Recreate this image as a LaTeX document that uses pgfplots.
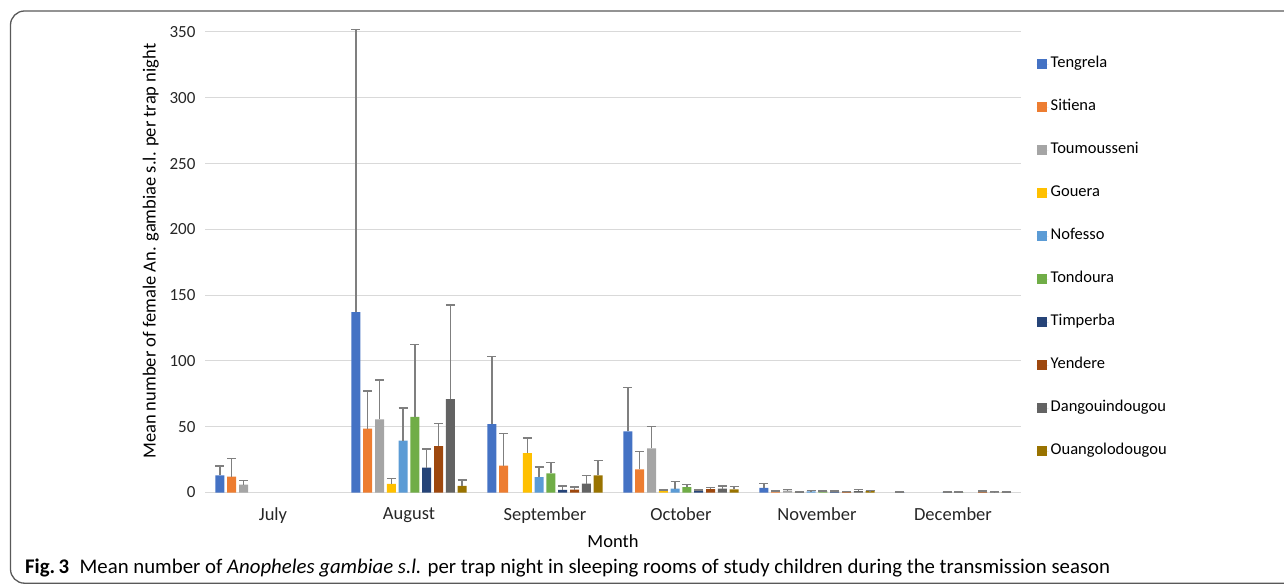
\documentclass[border=0pt]{standalone}
\usepackage{pgfplots}
\pgfplotsset{compat=1.18}
\usepackage{fontspec}
\setmainfont{Carlito}
\definecolor{c1}{HTML}{4472C4}
\definecolor{c2}{HTML}{ED7D31}
\definecolor{c3}{HTML}{A5A5A5}
\definecolor{c4}{HTML}{FFC000}
\definecolor{c5}{HTML}{5B9BD5}
\definecolor{c6}{HTML}{70AD47}
\definecolor{c7}{HTML}{264478}
\definecolor{c8}{HTML}{9E480E}
\definecolor{c9}{HTML}{636363}
\definecolor{c10}{HTML}{997300}
\definecolor{gridc}{HTML}{D9D9D9}
\definecolor{errc}{HTML}{7F7F7F}
\begin{document}
\begin{tikzpicture}
\useasboundingbox (0,0) rectangle (1284pt,584pt);
\draw[black!65, line width=1.3pt, rounded corners=14pt] (1300pt,573pt) -- (10.5pt,573pt) -- (10.5pt,0.8pt) -- (1300pt,0.8pt);
\begin{axis}[
  at={(205pt,91.5pt)}, anchor=south west,
  scale only axis, width=816pt, height=460.5pt,
  clip=false,
  ybar=2.8pt, bar width=9pt,
  xmin=-0.5, xmax=5.5, ymin=0, ymax=350,
  xtick={0,1,2,3,4,5},
  xticklabels={July,August,September,October,November,December},
  ytick={0,50,100,150,200,250,300,350},
  major tick length=0pt,
  ymajorgrids, grid style={gridc, line width=1pt},
  axis x line*=bottom, axis y line*=left,
  y axis line style={draw=none},
  x axis line style={gridc, line width=1.2pt, -},
  every tick label/.append style={text=black!85},
  /pgf/number format/assume math mode=true,
  xticklabel style={font=\fontsize{18.5}{22}\selectfont, yshift=-12pt},
  yticklabel style={font=\fontsize{17}{20}\selectfont, xshift=-6pt},
  xlabel={Month}, xlabel style={font=\fontsize{18.5}{22}\selectfont, yshift=-4pt},
  ylabel={Mean number of female An. gambiae s.l. per trap night},
  ylabel style={font=\fontsize{18.5}{22}\selectfont, yshift=4pt, xshift=11pt},
  error bars/y dir=plus, error bars/y explicit,
  error bars/error bar style={errc, line width=1.4pt},
  error bars/error mark options={rotate=90, mark size=4.5pt, errc, line width=1.4pt},
  legend style={at={(1.019,0.949)}, anchor=north west, draw=none, fill=none,
    font=\fontsize{16.5}{19}\selectfont, row sep=26pt, inner sep=0pt,
    nodes={text height=10pt, text depth=3pt, inner sep=2pt}},
  legend cell align=left,
  legend image code/.code={\path (0pt,0pt) -- (12pt,0pt); \fill[#1] (0pt,-5pt) rectangle (10pt,5pt);},
]
\addplot[fill=c1, draw=none] coordinates {(0,13) +- (0,7) (1,137) +- (0,215) (2,52) +- (0,51.5) (3,46.5) +- (0,33.5) (4,3.5) +- (0,3.5) (5,0.3) +- (0,0.2)};
\addplot[fill=c2, draw=none] coordinates {(0,12) +- (0,14) (1,48.5) +- (0,28.5) (2,20.5) +- (0,24.5) (3,17.5) +- (0,13.5) (4,0.5) +- (0,0.5)};
\addplot[fill=c3, draw=none] coordinates {(0,6) +- (0,3) (1,55.5) +- (0,30) (3,33.6) +- (0,16.6) (4,1.5) +- (0,1)};
\addplot[fill=c4, draw=none] coordinates {(1,6.6) +- (0,4) (2,30) +- (0,11.5) (3,1) +- (0,1) (4,0.3) +- (0,0)};
\addplot[fill=c5, draw=none] coordinates {(1,39.5) +- (0,24.8) (2,11.6) +- (0,7.8) (3,3) +- (0,5.3) (4,0.8) +- (0,0.5) (5,0.3) +- (0,0.2)};
\addplot[fill=c6, draw=none] coordinates {(1,57.5) +- (0,55) (2,14.5) +- (0,8.5) (3,4) +- (0,2) (4,0.8) +- (0,0.4) (5,0.3) +- (0,0.2)};
\addplot[fill=c7, draw=none] coordinates {(1,19) +- (0,14.2) (2,2) +- (0,3) (3,1.2) +- (0,0.8) (4,0.8) +- (0,0.4)};
\addplot[fill=c8, draw=none] coordinates {(1,35.2) +- (0,17.4) (2,2.2) +- (0,2) (3,2.5) +- (0,1.3) (4,0.5) +- (0,0.3) (5,0.5) +- (0,0.5)};
\addplot[fill=c9, draw=none] coordinates {(1,71) +- (0,71.5) (2,6.8) +- (0,6.1) (3,3) +- (0,2) (4,1) +- (0,1.5) (5,0.3) +- (0,0.3)};
\addplot[fill=c10, draw=none] coordinates {(1,5.1) +- (0,4.3) (2,13) +- (0,11.5) (3,2.3) +- (0,2.2) (4,1) +- (0,0.5) (5,0.3) +- (0,0.2)};
\legend{Tengrela,Sitiena,Toumousseni,Gouera,Nofesso,Tondoura,Timperba,Yendere,Dangouindougou,Ouangolodougou}
\end{axis}
\node[anchor=base west, inner sep=0pt, font=\fontsize{20.8}{24}\selectfont] at (25pt,11pt) {\textbf{Fig.\,3}\enspace Mean number of \textit{Anopheles gambiae s.l.} per trap night in sleeping rooms of study children during the transmission season};
\end{tikzpicture}
\end{document}
